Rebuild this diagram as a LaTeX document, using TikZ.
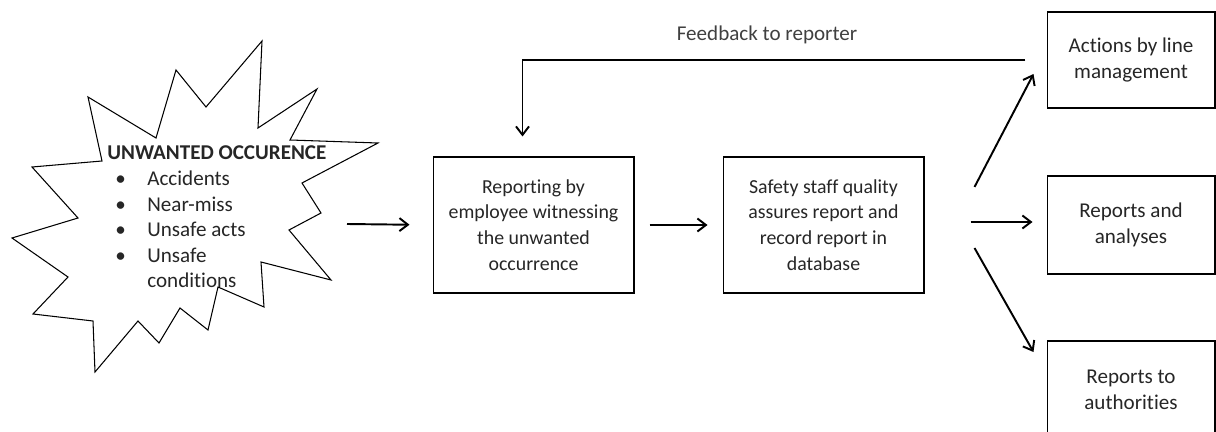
\documentclass[tikz,border=0pt]{standalone}
\usepackage{fontspec}
\setmainfont{Carlito}[Ligatures=NoCommon]
\usetikzlibrary{arrows.meta}

\tikzset{
    box/.style={draw, line width=0.6pt, align=center, text=black!85, minimum width=4.02cm, inner sep=2pt},
    flow/.style={line width=1.1pt, -{Straight Barb[length=0.17cm, width=0.26cm]}},
}
\newcommand{\occitem}[1]{\hspace*{0.16cm}\makebox[0.64cm][l]{\textbullet}#1}

\begin{document}
\begin{tikzpicture}[x=0.02cm, y=-0.02cm, font=\fontsize{12}{14.6}\selectfont]
    \useasboundingbox (0,0) rectangle (1216,432);

    % star
    \draw[line width=0.6pt] (262,41) -- (258,128) -- (317,89) -- (290,140) -- (378,143)
        -- (302,183) -- (321,213) -- (289,230) -- (331,280) -- (261,262) -- (264,307)
        -- (218,287) -- (208,330) -- (180,308) -- (159,343) -- (138,321) -- (95,372)
        -- (93,321) -- (33,314) -- (68,277) -- (12,238) -- (78,218) -- (32,167)
        -- (102,161) -- (88,97) -- (156,138) -- (176,70) -- (206,107) -- cycle;
    \node[anchor=west, align=left, inner sep=0pt, text=black!85] (occ) at (107,217)
        {\textbf{UNWANTED OCCURENCE}\\ \occitem{Accidents}\\ \occitem{Near-miss}\\
         \occitem{Unsafe acts}\\ \occitem{Unsafe}\\ \hspace*{0.8cm}conditions};
    \coordinate (occout) at (347,224);

    \node[box, minimum height=2.72cm, font=\fontsize{11.3}{14.6}\selectfont] (report) at (533.5,225)
        {Reporting by\\ employee witnessing\\ the unwanted\\ occurrence};
    \node[box, minimum height=2.72cm, font=\fontsize{11.3}{14.6}\selectfont] (safety) at (823.5,225)
        {Safety staff quality\\ assures report and\\ record report in\\ database};

    \node[box, minimum width=3.36cm, minimum height=1.92cm] (actions) at (1131,60)
        {Actions by line\\ management};
    \node[box, minimum width=3.36cm, minimum height=1.96cm] (analyses) at (1131,225)
        {Reports and\\ analyses};
    \node[box, minimum width=3.36cm, minimum height=1.96cm] (authorities) at (1131,390)
        {Reports to\\ authorities};

    \draw[flow, shorten >=0.46cm] (occout) -- (report.west);
    \draw[flow, shorten <=0.3cm, shorten >=0.3cm] (report) -- (safety);

    \draw[flow] ([shift={(50,-38)}]safety.east) -- ([shift={(-13,14)}]actions.west);
    \draw[flow] ([shift={(46,-3)}]safety.east) -- ([shift={(-14,-3)}]analyses.west);
    \draw[flow] ([shift={(50,23)}]safety.east) -- ([shift={(-13,-38)}]authorities.west);

    % feedback loop
    \draw[flow] ([xshift=-12]actions.west) -| ([shift={(-11,-20)}]report.north);
    \node[text=black!75, font=\fontsize{12}{14}\selectfont] (fb) at (767,35) {Feedback to reporter};
\end{tikzpicture}
\end{document}
